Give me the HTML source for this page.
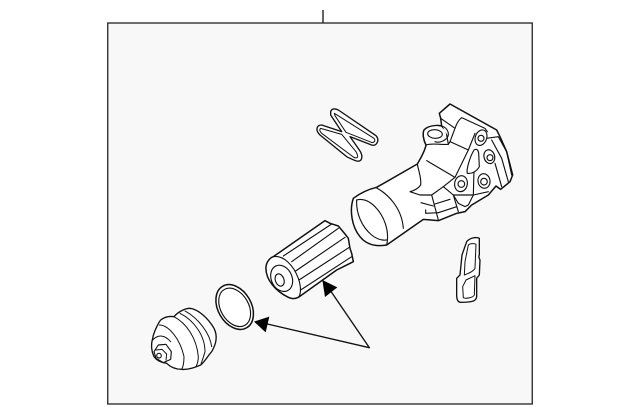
<!DOCTYPE html>
<html><head><meta charset="utf-8"><style>
html,body{margin:0;padding:0;background:#fff;width:640px;height:415px;overflow:hidden}
svg{display:block}
</style></head><body>
<svg width="640" height="415" viewBox="0 0 640 415" xmlns="http://www.w3.org/2000/svg">
<rect x="107.75" y="23" width="424.5" height="381" fill="#f8f8f8" stroke="#222" stroke-width="1.3"/>
<line x1="323" y1="10" x2="323" y2="23" stroke="#222" stroke-width="1.4"/>

<!-- housing -->
<g transform="translate(340,90) scale(.33333)" fill="none" stroke="#111" stroke-width="3.4" stroke-linejoin="round" stroke-linecap="round">
<path fill="#fff" stroke-width="4.5" d="M40 325C60 310 85 298 110 292L232 222C245 200 255 182 258 165C250 150 247 130 252 120C262 108 292 104 305 108L302 85L298 70L330 42L470 120L480 140L500 185L518 255L510 275L482 298L468 288L445 315L395 345L375 365L350 370L295 392L250 388L140 465C110 470 80 465 60 440C35 410 28 360 40 325Z"/>
<path d="M50 330C65 325 85 330 105 350C130 375 150 420 140 465"/>
<path d="M50 330C48 370 65 410 95 435C110 447 125 452 140 450"/>
<path d="M107 292C140 310 185 350 190 415"/>
<path d="M232 222C236 245 245 265 242 285C235 295 222 302 210 305L240 315L275 315L310 290L345 262L260 212"/>
<path d="M258 165C275 158 300 165 325 163L330 155L385 180"/>
<path d="M305 108L320 135L325 163"/>
<path d="M302 85L345 115L330 155"/>
<path d="M345 115C350 100 358 88 365 83L435 115L442 125"/>
<path d="M440 145L475 140L500 185L515 255"/>
<path d="M455 150L485 205L505 275"/>
<path d="M465 220L485 290"/>
<path d="M405 130L385 180L345 262"/>
<path d="M275 315L295 390"/>
<path d="M310 290L340 315L355 365"/>
<path d="M285 342L330 328"/>
<path d="M295 368L350 350"/>
<path d="M243 338L280 348"/>
<path d="M257 360L257 370L295 368"/>
<path d="M340 315L355 340L375 350L385 345L400 315L402 240"/>
<path d="M340 315L400 315L445 305"/>
<ellipse cx="285" cy="132" rx="33" ry="24" fill="#fff" stroke="none"/>
<path d="M258 165C250 150 247 130 252 120C262 108 292 104 305 108C320 112 326 125 325 135C322 150 300 160 285 155"/>
<ellipse cx="285" cy="132" rx="22" ry="13" fill="#fff" transform="rotate(4 285 132)"/>
<ellipse cx="423" cy="143" rx="17" ry="24" fill="#fff" transform="rotate(20 423 143)"/>
<circle cx="423" cy="145" r="9"/>
<ellipse cx="448" cy="200" rx="16" ry="21" fill="#fff" transform="rotate(-15 448 200)"/>
<circle cx="450" cy="203" r="9"/>
<ellipse cx="363" cy="281" rx="19" ry="24" fill="#fff" transform="rotate(10 363 281)"/>
<circle cx="364" cy="282" r="10"/>
<ellipse cx="432" cy="273" rx="18" ry="22" fill="#fff" transform="rotate(-10 432 273)"/>
<circle cx="432" cy="275" r="10"/>
<path fill="#fff" d="M402 180C410 175 415 180 416 190L418 230C410 245 395 252 382 250C378 240 390 200 402 180Z"/>
</g>

<!-- Z gasket -->
<g transform="translate(300,95) scale(.33333)" stroke="#111" stroke-width="4" stroke-linejoin="round" fill="none">
<path fill="#fff" d="M92 50C95 40 105 40 115 45L228 122C240 135 230 155 215 150L150 125L178 165C192 185 185 202 170 198C160 195 150 190 140 185L60 120C45 105 50 90 65 90L125 110L92 60Z"/>
<path stroke-width="3" d="M103 55L222 130C228 138 222 144 214 142L138 112L105 62Z"/>
<path stroke-width="3" d="M62 100L125 118L168 170C178 188 172 192 160 186L65 115C58 108 58 103 62 100Z"/>
</g>

<!-- side gasket -->
<g transform="translate(440,225) scale(.33333)" stroke="#111" stroke-width="4" stroke-linejoin="round" fill="none">
<path fill="#fff" d="M80 50C90 38 110 35 118 40L118 90C114 95 118 100 120 105L118 150L110 160L110 215C108 228 100 232 60 232C52 230 50 222 50 210L50 160L60 150L66 90Z"/>
<path stroke-width="3" d="M85 60C90 55 105 55 108 58L105 130C100 140 85 145 73 150L75 110Z"/>
<path stroke-width="3" d="M78 165L105 152L103 210C100 218 75 222 70 218L68 185Z"/>
</g>

<!-- filter, o-ring, cap, arrows -->
<g transform="translate(130,210) scale(.33333)" stroke="#111" stroke-width="3.4" stroke-linejoin="round" stroke-linecap="round" fill="none">
<path fill="#fff" stroke-width="4.5" d="M408 170C410 155 420 143 430 140L585 32L600 40L625 48L645 72L655 85L660 115L665 130L670 155L640 170L620 180L505 262C495 267 485 267 475 262C440 245 405 210 408 170Z"/>
<path d="M430 140C460 135 490 165 505 205C515 235 512 255 505 262"/>
<path d="M460 138L605 42"/>
<path d="M485 155L625 55"/>
<path d="M497 183L645 82"/>
<path d="M507 210L658 112"/>
<path d="M512 240L665 140"/>
<ellipse cx="455" cy="205" rx="31" ry="41" transform="rotate(-25 455 205)"/>
<ellipse cx="449" cy="210" rx="13" ry="19" transform="rotate(-20 449 210)"/>

<ellipse cx="314" cy="291" rx="50" ry="72" fill="#fff" stroke-width="4.5" transform="rotate(-30 314 291)"/>
<ellipse cx="314" cy="292" rx="42" ry="62" transform="rotate(-30 314 292)"/>

<path fill="#fff" stroke-width="4" d="M68 385C72 362 88 335 92 330C105 320 120 318 132 320C145 305 165 295 180 295C205 298 235 325 252 355C262 375 260 400 245 425C235 435 225 455 212 465C195 472 175 480 155 478C135 478 120 470 110 460C95 458 80 452 72 440C65 425 62 405 68 385Z"/>
<path stroke-width="3" d="M88 345C115 345 150 385 162 440C162 458 160 470 155 478"/>
<path stroke-width="3" d="M132 320C170 340 200 385 205 440C205 450 203 460 198 470"/>
<path stroke-width="3" d="M150 310C190 330 225 375 225 425C222 437 218 448 212 465"/>
<path stroke-width="3" d="M165 303C205 325 240 370 245 410"/>
<path stroke-width="3" d="M68 390C85 372 105 375 122 395"/>
<path fill="#fff" d="M72 425L85 405L108 403L124 425L122 448L100 458L78 445Z"/>
<path stroke-width="3" d="M78 420L96 418L110 432L108 450"/>
<ellipse cx="87" cy="437" rx="7" ry="7"/>

<path d="M718 413L600 240" stroke-width="4"/>
<path d="M718 413L412 342" stroke-width="4"/>
<path fill="#000" stroke="none" d="M577 210L622 232L585 261Z"/>
<path fill="#000" stroke="none" d="M372 335L418 320L407 367Z"/>
</g>
</svg>
</body></html>
